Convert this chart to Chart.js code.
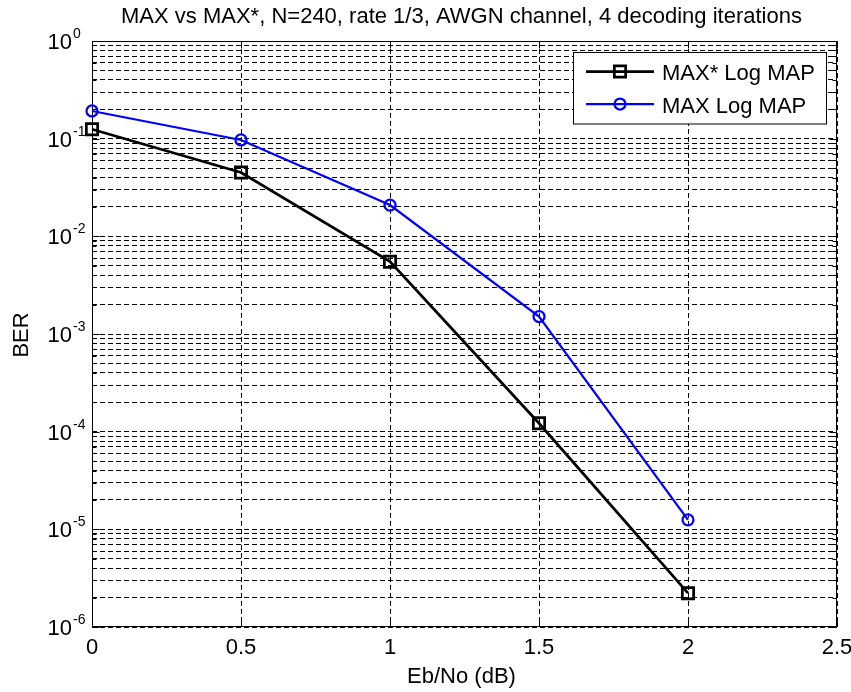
<!DOCTYPE html>
<html><head><meta charset="utf-8">
<script src="https://cdn.jsdelivr.net/npm/chart.js@4.4.1/dist/chart.umd.min.js"></script>
<style>html,body{margin:0;padding:0;background:#fff;overflow:hidden}</style>
</head><body>
<canvas id="c" width="851" height="692"></canvas>
<script>
// ---- data ----
const ebNo = [0, 0.5, 1, 1.5, 2];
const berMaxStar = [0.125, 0.045, 0.0055, 1.22e-4, 2.22e-6];
const berMax = [0.192, 0.097, 0.0209, 1.51e-3, 1.25e-5];
const seriesNames = ['MAX* Log MAP', 'MAX Log MAP'];
const xTickValues = [0, 0.5, 1, 1.5, 2, 2.5];
const xTickLabels = ['0', '0.5', '1', '1.5', '2', '2.5'];
const yDecadeExponents = [0, -1, -2, -3, -4, -5, -6];
const titleText = 'MAX vs MAX*, N=240, rate 1/3, AWGN channel, 4 decoding iterations';
const xTitle = 'Eb/No (dB)';
const yTitle = 'BER';

const FONT = '"Liberation Sans", Arial, Helvetica, sans-serif';

// log grid values: 1..9 x 10^k
const yGridValues = [];
const minExp = Math.min(...yDecadeExponents), maxExp = Math.max(...yDecadeExponents);
for (let k = minExp; k < maxExp; k++) {
  for (let m = 1; m <= 9; m++) yGridValues.push({v: m * Math.pow(10, k), major: m === 1});
}
yGridValues.push({v: Math.pow(10, maxExp), major: true});

const matlabPlugin = {
  id: 'matlab',
  beforeDatasetsDraw(chart) {
    const {ctx, chartArea: a, scales: {x, y}} = chart;
    ctx.save();
    ctx.strokeStyle = '#000';
    ctx.lineWidth = 1;
    ctx.setLineDash([]);
    const L = Math.round(a.left) + 0.5, R = Math.round(a.right) - 0.5;
    const T = Math.round(a.top) + 0.5, B = Math.round(a.bottom) - 0.5;
    ctx.beginPath();
    ctx.rect(L, T, R - L, B - T);
    x.ticks.forEach(t => {
      const px = Math.round(x.getPixelForValue(t.value)) + 0.5;
      ctx.moveTo(px, B); ctx.lineTo(px, B - 7);
      ctx.moveTo(px, T); ctx.lineTo(px, T + 7);
    });
    y.ticks.forEach(t => {
      const py = Math.round(y.getPixelForValue(t.value)) + 0.5;
      const len = t.isDecade ? 7 : 4;
      ctx.moveTo(L, py); ctx.lineTo(L + len, py);
      ctx.moveTo(R, py); ctx.lineTo(R - len, py);
    });
    ctx.stroke();
    ctx.restore();
  },
  afterDraw(chart) {
    const {ctx, chartArea: a, scales: {x, y}} = chart;
    ctx.save();
    ctx.fillStyle = '#000';
    // title
    ctx.font = '22px ' + FONT;
    ctx.textAlign = 'center';
    ctx.textBaseline = 'alphabetic';
    ctx.fillText(titleText, (a.left + a.right) / 2 - 3, 23);
    // x tick labels
    xTickValues.forEach((v, i) => {
      ctx.fillText(xTickLabels[i], x.getPixelForValue(v), a.bottom + 27);
    });
    // x title
    ctx.fillText(xTitle, (a.left + a.right) / 2 - 3, 683);
    // y title
    ctx.save();
    ctx.translate(28, 335);
    ctx.rotate(-Math.PI / 2);
    ctx.fillText(yTitle, 0, 0);
    ctx.restore();
    // y tick labels 10^k
    yDecadeExponents.forEach(k => {
      const py = y.getPixelForValue(Math.pow(10, k));
      ctx.font = '22px ' + FONT;
      ctx.textAlign = 'right';
      ctx.fillText('10', a.left - 20, py + 8);
      ctx.font = '14px ' + FONT;
      ctx.textAlign = 'left';
      ctx.fillText(String(k), a.left - 19, py - 3);
    });
    // legend
    const box = {x: 573, y: 52.5, w: 253, h: 71.5};
    ctx.fillStyle = '#fff';
    ctx.fillRect(box.x, box.y, box.w, box.h);
    ctx.strokeStyle = '#000';
    ctx.lineWidth = 1;
    ctx.strokeRect(box.x + 0.5, box.y, box.w, box.h);
    const rows = [71.5, 104];
    chart.data.datasets.forEach((ds, i) => {
      const ry = rows[i];
      ctx.strokeStyle = ds.borderColor;
      ctx.lineWidth = ds.borderWidth;
      ctx.beginPath();
      ctx.moveTo(586, ry); ctx.lineTo(654, ry);
      ctx.stroke();
      ctx.fillStyle = 'rgba(0,0,0,0)';
      ctx.lineWidth = ds.pointBorderWidth;
      Chart.helpers.drawPoint(ctx, {
        pointStyle: ds.pointStyle, radius: ds.pointRadius, rotation: 0,
        borderWidth: ds.pointBorderWidth
      }, 620, ry);
      ctx.fillStyle = '#000';
      ctx.font = '22px ' + FONT;
      ctx.textAlign = 'left';
      ctx.fillText(ds.label, 662, ry + 8.5);
    });
    ctx.restore();
  }
};

new Chart(document.getElementById('c'), {
  type: 'line',
  data: {
    datasets: [
      {
        label: seriesNames[0],
        data: ebNo.map((v, i) => ({x: v, y: berMaxStar[i]})),
        borderColor: '#000', backgroundColor: 'rgba(0,0,0,0)',
        borderWidth: 2.75, pointStyle: 'rect', pointRadius: 8,
        pointBorderWidth: 2.75, pointBorderColor: '#000', pointBackgroundColor: 'rgba(0,0,0,0)',
        tension: 0, clip: false
      },
      {
        label: seriesNames[1],
        data: ebNo.map((v, i) => ({x: v, y: berMax[i]})),
        borderColor: '#0000ff', backgroundColor: 'rgba(0,0,0,0)',
        borderWidth: 2.25, pointStyle: 'circle', pointRadius: 5.5,
        pointBorderWidth: 2.25, pointBorderColor: '#0000ff', pointBackgroundColor: 'rgba(0,0,0,0)',
        tension: 0, clip: false
      }
    ]
  },
  options: {
    responsive: false,
    animation: false,
    devicePixelRatio: 1,
    layout: {padding: {left: 92, right: 14, top: 41, bottom: 65}},
    plugins: {legend: {display: false}, tooltip: {enabled: false}, title: {display: false}},
    scales: {
      x: {
        type: 'linear', min: 0, max: 2.5,
        afterBuildTicks: s => { s.ticks = xTickValues.map(v => ({value: v})); },
        afterFit: s => { s.height = 0; },
        ticks: {display: false},
        grid: {color: '#000', lineWidth: 1, drawTicks: false},
        border: {display: false, dash: [5, 3]}
      },
      y: {
        type: 'logarithmic', min: Math.pow(10, minExp), max: Math.pow(10, maxExp),
        afterBuildTicks: s => { s.ticks = yGridValues.map(g => ({value: g.v, isDecade: g.major})); },
        afterFit: s => { s.width = 0; },
        ticks: {display: false},
        grid: {color: '#000', lineWidth: 1, drawTicks: false},
        border: {display: false, dash: [5, 3]}
      }
    }
  },
  plugins: [matlabPlugin]
});
</script>
</body></html>
